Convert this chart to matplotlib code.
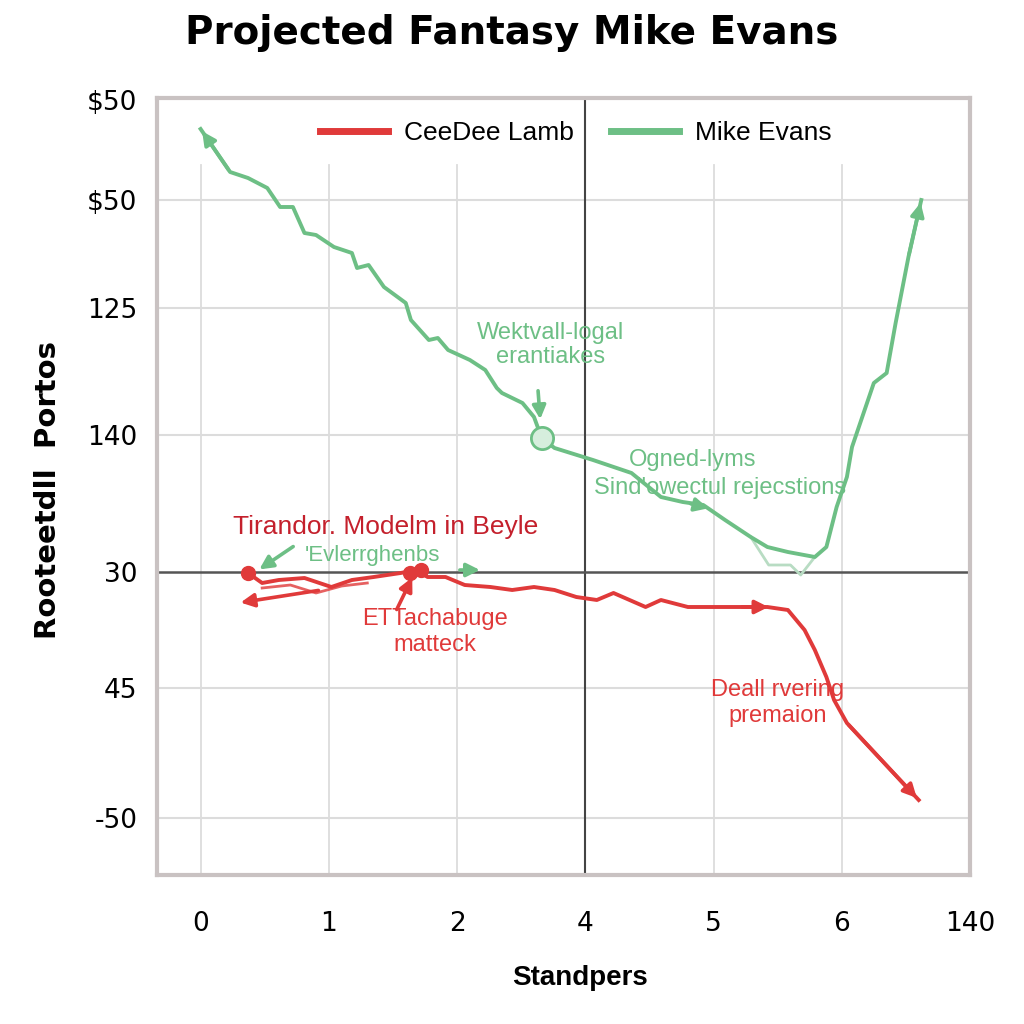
import matplotlib
matplotlib.use('Agg')
import matplotlib.pyplot as plt

# tick positions / labels (as printed on the chart)
x_ticks = [0, 1, 2, 3, 4, 5, 6]
x_labels = ["0", "1", "2", "4", "5", "6", "140"]
y_ticks = [5.7, 18.7, 30.3, 44.0, 56.7, 67.5, 77.5]
y_labels = ["-50", "45", "30", "140", "125", "$50", "$50"]

# Mike Evans (green)
evans_x = [0.00, 0.23, 0.37, 0.52, 0.62, 0.72, 0.81, 0.90, 1.04, 1.18, 1.22, 1.31,
           1.43, 1.60, 1.64, 1.78, 1.85, 1.93, 2.10, 2.22, 2.31, 2.35, 2.51, 2.60,
           2.66, 2.76, 3.06, 3.36, 3.59, 3.76, 3.92, 4.09, 4.29, 4.42, 4.58, 4.79,
           4.88, 4.96, 5.04, 5.08, 5.25, 5.35, 5.42, 5.52, 5.62]
evans_y = [74.6, 70.3, 69.7, 68.7, 66.8, 66.8, 64.2, 64.0, 62.8, 62.2, 60.7, 61.0,
           58.8, 57.2, 55.5, 53.5, 53.7, 52.5, 51.5, 50.5, 48.7, 48.2, 47.2, 45.8,
           43.7, 42.7, 41.5, 40.2, 37.8, 37.3, 37.0, 35.5, 33.8, 32.8, 32.3, 31.8,
           32.8, 36.8, 39.8, 42.8, 49.2, 50.2, 55.2, 61.8, 67.5]
ghost_x = [4.29, 4.43, 4.60, 4.68, 4.79]
ghost_y = [33.8, 31.0, 31.0, 30.0, 31.8]

# CeeDee Lamb (red)
lamb_x = [0.37, 0.48, 0.61, 0.81, 1.02, 1.18, 1.35, 1.56, 1.68, 1.77, 1.91, 2.06,
          2.26, 2.43, 2.60, 2.76, 2.93, 3.09, 3.22, 3.47, 3.59, 3.80, 4.42, 4.58,
          4.71, 4.79, 4.88, 4.94, 5.04, 5.60]
lamb_y = [30.2, 29.2, 29.5, 29.7, 28.8, 29.5, 29.8, 30.2, 30.5, 29.8, 29.8, 29.0,
          28.8, 28.5, 28.8, 28.5, 27.8, 27.5, 28.2, 26.8, 27.5, 26.8, 26.8, 26.5,
          24.5, 22.5, 19.8, 17.5, 15.2, 7.5]
# second faint stroke along the start of the red line
lamb2_x = [0.48, 0.70, 0.90, 1.10, 1.30]
lamb2_y = [28.7, 29.0, 28.2, 28.9, 29.2]

GREEN = "#6dbf85"
RED = "#e03a3a"
DARKRED = "#c4202c"
ARIAL = ["Liberation Sans", "DejaVu Sans"]

fig = plt.figure(figsize=(10.24, 10.24), dpi=100)
ax = fig.add_axes([157 / 1024, 1 - 875 / 1024, 813 / 1024, 777 / 1024])
ax.set_xlim(-0.34, 6.0)
ax.set_ylim(0, 77.7)

# grid
for xv in [0, 1, 2, 4, 5]:
    ax.axvline(xv, ymax=0.914, color="#dcdcdc", lw=1.3, zorder=0)
for yv in y_ticks[:2] + y_ticks[3:6]:
    ax.axhline(yv, color="#dcdcdc", lw=1.5, zorder=0)
ax.axvline(3, color="#444444", lw=1.5, zorder=1)
ax.axhline(30.3, color="#555555", lw=1.8, zorder=1)

# lines
ax.plot(evans_x, evans_y, color=GREEN, lw=2.8, label="Mike Evans", zorder=3)
ax.plot(ghost_x, ghost_y, color="#b8dcc3", lw=2, zorder=2)
ax.plot(lamb_x, lamb_y, color=RED, lw=2.8, label="CeeDee Lamb", zorder=3)
ax.plot(lamb2_x, lamb2_y, color=RED, lw=2, alpha=0.8, zorder=3)

arrow_g = dict(arrowstyle="-|>", color=GREEN, lw=2.6, mutation_scale=20)
arrow_r = dict(arrowstyle="-|>", color=RED, lw=2.6, mutation_scale=20)
ax.annotate("", xy=(evans_x[0], evans_y[0]), xytext=(evans_x[1], evans_y[1]), arrowprops=arrow_g)
ax.annotate("", xy=(evans_x[-1], evans_y[-1]), xytext=(evans_x[-2], evans_y[-2]), arrowprops=arrow_g)
ax.annotate("", xy=(lamb_x[-1], lamb_y[-1]), xytext=(lamb_x[-2], lamb_y[-2]), arrowprops=arrow_r)
ax.annotate("", xy=(4.45, 26.8), xytext=(4.2, 26.8), arrowprops=arrow_r)
ax.annotate("", xy=(0.29, 27.2), xytext=(0.94, 28.5), arrowprops=arrow_r)
ax.annotate("", xy=(1.66, 30.0), xytext=(1.52, 26.3), arrowprops=arrow_r)
ax.annotate("", xy=(2.65, 45.3), xytext=(2.63, 48.7), arrowprops=arrow_g)
ax.annotate("", xy=(0.44, 30.4), xytext=(0.74, 33.0), arrowprops=arrow_g)
ax.annotate("", xy=(2.2, 30.5), xytext=(2.0, 30.5), arrowprops=arrow_g)
ax.annotate("", xy=(3.98, 36.6), xytext=(3.8, 37.2), arrowprops=arrow_g)

# markers
ax.plot([2.66], [43.7], 'o', ms=16, mfc="#d6eedd", mec=GREEN, mew=2, zorder=4)
ax.plot([0.37, 1.63, 1.72], [30.2, 30.2, 30.5], 'o', ms=10, color=RED, zorder=4)

# annotations
ax.text(2.73, 53.0, "Wektvall-logal\nerantiakes", color=GREEN, fontsize=17, family=ARIAL,
        ha="center", va="center", linespacing=1.1)
ax.text(3.84, 41.5, "Ogned-lyms", color=GREEN, fontsize=17, family=ARIAL, ha="center", va="center")
ax.text(4.05, 38.7, "Sind'owectul rejecstions", color=GREEN, fontsize=17, family=ARIAL,
        ha="center", va="center")
ax.text(1.44, 34.8, "Tirandor. Modelm in Beyle", color=DARKRED, fontsize=19, family=ARIAL,
        ha="center", va="center")
ax.text(1.34, 31.9, "'Evlerrghenbs", color=GREEN, fontsize=16, family=ARIAL, ha="center", va="center")
ax.text(1.83, 24.3, "ETTachabuge\nmatteck", color=RED, fontsize=17, family=ARIAL,
        ha="center", va="center", linespacing=1.2)
ax.text(4.50, 17.2, "Deall rvering\npremaion", color=RED, fontsize=17, family=ARIAL,
        ha="center", va="center", linespacing=1.2)

# axes styling
ax.set_xticks(x_ticks)
ax.set_xticklabels(x_labels)
ax.set_yticks(y_ticks)
ax.set_yticklabels(y_labels)
ax.tick_params(length=0, labelsize=19)
ax.tick_params(axis='x', pad=26)
ax.tick_params(axis='y', pad=14)
for s in ax.spines.values():
    s.set_color("#c9c2c2")
    s.set_linewidth(3)

h, l = ax.get_legend_handles_labels()
order = [l.index("CeeDee Lamb"), l.index("Mike Evans")]
ax.legend([h[i] for i in order], [l[i] for i in order], loc="center",
          bbox_to_anchor=(0.515, 0.955), ncol=2, frameon=False,
          prop={"family": ARIAL, "size": 19},
          handlelength=2.6, columnspacing=1.4, handletextpad=0.6)
for line in ax.get_legend().get_lines():
    line.set_linewidth(5)

fig.text(0.5, 1 - 33 / 1024, "Projected Fantasy Mike Evans", ha="center", va="center",
         fontsize=28, fontweight="bold")
fig.text(580 / 1024, 1 - 978 / 1024, "Standpers", ha="center", va="center",
         fontsize=20, fontweight="bold", family=ARIAL)
fig.text(48 / 1024, 1 - 490 / 1024, "Rooteetdll  Portos", ha="center", va="center",
         fontsize=21, fontweight="bold", rotation=90)

fig.savefig("out.png", dpi=100, facecolor="white")
